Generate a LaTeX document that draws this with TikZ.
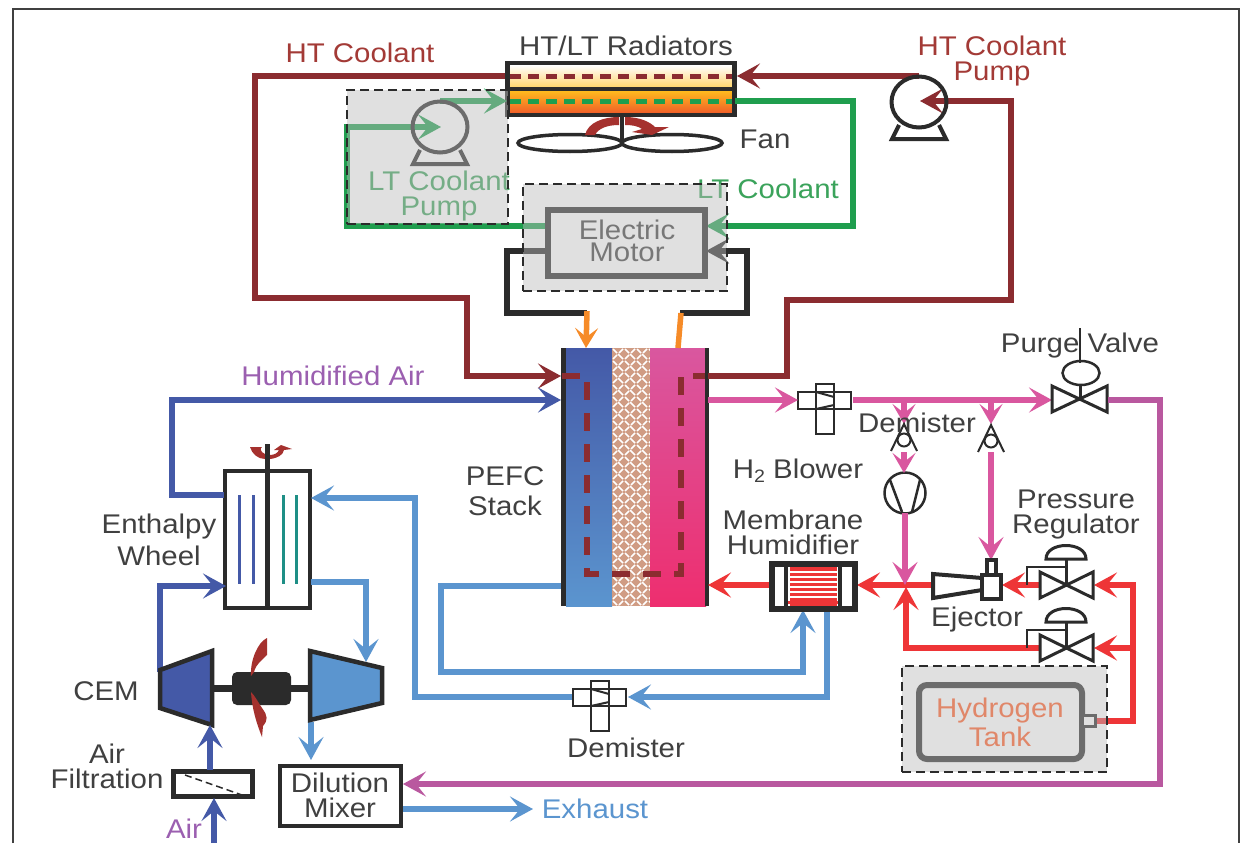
\documentclass[tikz,border=0pt]{standalone}
\usepackage{fontspec}
\setmainfont[FakeStretch=1.09]{Liberation Sans}
\usetikzlibrary{arrows.meta,calc,shapes.geometric}
\definecolor{htred}{HTML}{8B2C30}
\definecolor{htxt}{HTML}{A33A36}
\definecolor{ltgreen}{HTML}{1F9E4E}
\definecolor{ltxt}{HTML}{3BA35B}
\definecolor{dkblue}{HTML}{4459A7}
\definecolor{ltblue}{HTML}{5B95CF}
\definecolor{pinkl}{HTML}{D9579F}
\definecolor{purp}{HTML}{B9589F}
\definecolor{hred}{HTML}{EE3537}
\definecolor{orng}{HTML}{F68B28}
\definecolor{ink}{HTML}{2B2B2B}
\definecolor{txt}{HTML}{404040}
\definecolor{veil}{HTML}{BBBBBB}
\definecolor{bladered}{HTML}{A5312E}
\definecolor{teal}{HTML}{1E8F86}
\tikzset{
  lbl/.style={font=\fontsize{27}{25}\selectfont,align=center,inner sep=0pt,text=txt},
  flow/.style={line width=5.5pt,line join=miter},
  arr/.style={flow,-{Stealth[length=23pt,width=25pt,inset=10pt]}},
  sarr/.style={flow,-{Stealth[length=20pt,width=23pt,inset=9pt]}},
  boxpart/.style={draw=ink,line width=4.5pt,fill=white,inner sep=0pt},
  fine/.style={draw=ink,line width=2pt,line join=miter},
  mid/.style={draw=ink,line width=3pt,line join=miter},
  veilbox/.style={draw=ink,dash pattern=on 9pt off 5pt,line width=2.5pt,fill=veil,fill opacity=.455,draw opacity=1,inner sep=0pt},
  pumpc/.style={draw=ink,line width=4pt,ellipse,inner sep=0pt,minimum width=55pt,minimum height=51pt},
}
\newcommand{\crossvalve}[2]{% demister cross, centre x, top y of the horizontal bar
  \draw[fine] (#1-27,#2) rectangle (#1+26,#2+17);
  \draw[fine] (#1-9,#2-8) rectangle (#1+9,#2+42);
  \draw[fine] (#1-9,#2) -- (#1+9,#2+5);
  \draw[fine] (#1-9,#2+17) -- (#1+9,#2+13);
}
\newcommand{\drop}[2]{% small separator, apex x, apex y
  \draw[fine] (#1-13,#2+27) -- (#1,#2) -- (#1+13,#2+27);
  \draw[fine] (#1,#2+16) circle (6.5);
}
\newcommand{\regul}[2]{% regulator valve, centre x, centre y
  \draw[mid] (#1-26,#2-13) -- (#1+27,#2+13) -- (#1+27,#2-13) -- (#1-26,#2+13) -- cycle;
  \draw[mid] (#1,#2) -- (#1,#2-26);
  \draw[mid] (#1-20,#2-26) .. controls (#1-20,#2-44) and (#1+20,#2-44) .. (#1+20,#2-26) -- cycle;
  \draw[fine,line width=2.5pt] (#1,#2-18) -- (#1-39,#2-18) -- (#1-39,#2);
}
\begin{document}
\begin{tikzpicture}[x=1pt,y=-1pt]
\useasboundingbox (0,0) rectangle (1241,843);
\fill[white] (0,0) rectangle (1241,843);
% frame
\coordinate (frA) at (13,843); \coordinate (frB) at (13,9); \coordinate (frC) at (1239,9); \coordinate (frD) at (1239,843);
\draw[line width=2.5pt,color=ink!90] (frA) -- (frB) -- (frC) -- (frD);

% ---------- stack
\node[inner sep=0,minimum width=46pt,minimum height=258pt,top color=dkblue,bottom color=ltblue] (anode) at (589,477) {};
\node[inner sep=0,minimum width=38pt,minimum height=258pt,fill=white] (mem) at (631,477) {};
\begin{scope}
\clip (612,348) rectangle (650,606);
\fill[color={rgb,255:red,208;green,156;blue,132}] (612,348) rectangle (650,606);
\foreach \x in {606,618,...,650}{\foreach \y in {342,354,...,606}{
  \draw[white,line width=1.6pt] (\x,\y) -- ++(5,5);
  \draw[white,line width=1.6pt] (\x+11,\y+1) -- ++(-4,4);
  \draw[white,line width=1.6pt] (\x+1,\y+11) -- ++(4,-4);
  \draw[white,line width=1.6pt] (\x+7,\y+7) -- ++(4,4);
}}
\end{scope}
\node[inner sep=0,minimum width=56pt,minimum height=258pt,top color=pinkl,middle color={rgb,255:red,238;green,52;blue,152},bottom color={rgb,255:red,238;green,46;blue,111}] (cath) at (678,477) {};
\node[fill=ink,inner sep=0,minimum width=5pt,minimum height=258pt] (barL) at (563.5,477) {};
\node[fill=ink,inner sep=0,minimum width=4pt,minimum height=258pt] (barR) at (707,477) {};

% ---------- HT coolant
\coordinate (h1) at (507,76); \coordinate (h2) at (255,76); \coordinate (h3) at (255,298); \coordinate (h4) at (467,298); \coordinate (h5) at (467,376); \coordinate (h6) at (561,376);
\coordinate (h7) at (708,376); \coordinate (h8) at (787,376); \coordinate (h9) at (787,300); \coordinate (h10) at (1011,300); \coordinate (h11) at (1011,101); \coordinate (h12) at (920,101);
\coordinate (h13) at (919,76); \coordinate (h14) at (737,76);
\draw[arr,color=htred] (h1) -- (h2) -- (h3) -- (h4) -- (h5) -- (h6);
\draw[arr,color=htred] (h7) -- (h8) -- (h9) -- (h10) -- (h11) -- (h12);
\draw[arr,color=htred] (h13) -- (h14);
\coordinate (s1) at (562,376); \coordinate (s2) at (587,376); \coordinate (s3) at (587,574); \coordinate (s4) at (681,574); \coordinate (s5) at (681,376); \coordinate (s6) at (705,376);
\draw[htred,line width=6pt,dash pattern=on 18pt off 13pt,line join=miter] (s1) -- (s2) -- (s3) -- (s4) -- (s5) -- (s6);

% ---------- radiators
\node[inner sep=0,minimum width=226pt,minimum height=22pt,top color=white,bottom color={rgb,255:red,255;green,214;blue,110}] (radT) at (621,76) {};
\node[inner sep=0,minimum width=226pt,minimum height=24pt,top color={rgb,255:red,255;green,190;blue,30},middle color={rgb,255:red,255;green,175;blue,35},bottom color={rgb,255:red,240;green,90;blue,40}] (radB) at (621,102) {};
\coordinate (d1) at (510,76.5); \coordinate (d2) at (733,76.5);
\draw[htred,line width=5pt,dash pattern=on 11pt off 7pt] (d1) -- (d2);
\coordinate (d3) at (510,101.5); \coordinate (d4) at (733,101.5);
\draw[ltgreen,line width=5pt,dash pattern=on 11pt off 7pt] (d3) -- (d4);
\node[draw=ink,line width=4.5pt,inner sep=0,minimum width=227pt,minimum height=52pt] (rad) at (621,89) {};
\coordinate (d5) at (507,89); \coordinate (d6) at (735,89);
\draw[ink,line width=4pt] (d5) -- (d6);

% ---------- LT coolant
\coordinate (l1) at (547,226); \coordinate (l2) at (347,226); \coordinate (l3) at (347,127); \coordinate (l4) at (441,127);
\coordinate (l5) at (440,101); \coordinate (l6) at (507,101);
\coordinate (l7) at (735,101); \coordinate (l8) at (853,101); \coordinate (l9) at (853,226); \coordinate (l10) at (706,226);
\draw[arr,color=ltgreen] (l1) -- (l2) -- (l3) -- (l4);
\draw[arr,color=ltgreen] (l5) -- (l6);
\draw[arr,color=ltgreen] (l7) -- (l8) -- (l9) -- (l10);

% ---------- pumps
\node[pumpc] (ltpump) at (440,127) {};
\node[pumpc] (htpump) at (919,102) {};
\draw[mid,line width=4pt] (420,150) -- (413,164) -- (467,164) -- (460,150);
\draw[mid,line width=4pt] (899,125) -- (892,139) -- (946,139) -- (939,125);

% ---------- fan
\node[draw=ink,line width=3.5pt,ellipse,inner sep=0,minimum width=104pt,minimum height=17pt] (fanL) at (570,143) {};
\node[draw=ink,line width=3.5pt,ellipse,inner sep=0,minimum width=100pt,minimum height=17pt] (fanR) at (672,143) {};
\coordinate (fs1) at (622,116); \coordinate (fs2) at (622,143);
\fill[bladered] (585,135) .. controls (588,122) and (604,117) .. (619,117) -- (619,125) .. controls (606,125) and (598,129) .. (595,135) -- cycle;
\fill[bladered] (625,117) .. controls (640,117) and (650,122) .. (655,127) -- (669,127) -- (652,135) -- (632,132) -- (642,129) .. controls (638,126) and (632,125) .. (625,125) -- cycle;
\draw[ink,line width=4.5pt] (fs1) -- (fs2);

% ---------- top labels
\node[lbl,text=htxt] (tHT) at (360,53) {HT Coolant};
\node[lbl] (tRad) at (626,46) {HT/LT Radiators};
\node[lbl,text=htxt] (tHTP) at (992,61) {HT Coolant\\Pump};
\node[lbl] (tFan) at (765,139) {Fan};
\node[lbl,text=ltxt] (tLTP) at (439,196) {LT Coolant\\Pump};
\node[lbl,text=ltxt] (tLT) at (768,189) {LT Coolant};

% ---------- motor
\node[boxpart,line width=6pt,fill=none,minimum width=157pt,minimum height=66pt] (motor) at (626,242.5) {};
\node[lbl,text=txt] (tMot) at (627,241) {Electric\\[-3pt]Motor};
\coordinate (b1) at (547,251); \coordinate (b2) at (507,251); \coordinate (b3) at (507,313); \coordinate (b4) at (587,313);
\coordinate (b5) at (680,313); \coordinate (b6) at (747,313); \coordinate (b7) at (747,251); \coordinate (b8) at (706,251);
\draw[flow,line width=6pt,color=ink] (b1) -- (b2) -- (b3) -- (b4);
\draw[arr,line width=6pt,color=ink] (b5) -- (b6) -- (b7) -- (b8);
\coordinate (o1) at (587,311); \coordinate (o2) at (586,348); \coordinate (o3) at (681,313); \coordinate (o4) at (678,348);
\draw[sarr,color=orng] (o1) -- (o2);
\draw[flow,color=orng] (o3) -- (o4);

% veils
\node[veilbox,minimum width=161pt,minimum height=134pt] (ltbox) at (427.5,157) {};
\node[veilbox,minimum width=204pt,minimum height=107pt] (motbox) at (625,237.5) {};

% ---------- air side
\node[boxpart,minimum width=85pt,minimum height=137pt] (wheel) at (267.5,539.5) {};
\coordinate (ws1) at (267,444); \coordinate (ws2) at (267,608);
\coordinate (wa) at (239,495); \coordinate (wb) at (239,584); \coordinate (wc) at (253,495); \coordinate (wd) at (253,584);
\coordinate (we) at (283,495); \coordinate (wf) at (283,584); \coordinate (wg) at (296,495); \coordinate (wh) at (296,584);
\draw[dkblue,line width=3pt] (wa) -- (wb) (wc) -- (wd);
\draw[teal,line width=3pt] (we) -- (wf) (wg) -- (wh);
\fill[bladered] (250,447) .. controls (252,454) and (258,459) .. (265,459) -- (265,454) .. controls (260,452) and (260,448) .. (262,447) -- cycle;
\fill[bladered] (270,459) .. controls (278,458) and (283,455) .. (284,450) -- (292,449) -- (281,445) -- (274,450) -- (279,450) .. controls (278,453) and (274,455) .. (270,455) -- cycle;
\draw[ink,line width=5pt] (ws1) -- (ws2);

\coordinate (a1) at (224,495); \coordinate (a2) at (172,495); \coordinate (a3) at (172,400); \coordinate (a4) at (561,400);
\draw[arr,color=dkblue] (a1) -- (a2) -- (a3) -- (a4);
\coordinate (a5) at (160,672); \coordinate (a6) at (160,586); \coordinate (a7) at (226,586);
\draw[arr,color=dkblue] (a5) -- (a6) -- (a7);
% light blue
\coordinate (c1) at (561,586); \coordinate (c2) at (441,586); \coordinate (c3) at (441,672); \coordinate (c4) at (803,672); \coordinate (c5) at (803,610);
\draw[arr,color=ltblue] (c1) -- (c2) -- (c3) -- (c4) -- (c5);
\coordinate (c6) at (827,610); \coordinate (c7) at (827,697); \coordinate (c8) at (628,697);
\draw[arr,color=ltblue] (c6) -- (c7) -- (c8);
\coordinate (c9) at (572,697); \coordinate (c10) at (415,697); \coordinate (c11) at (415,498); \coordinate (c12) at (311,498);
\draw[arr,color=ltblue] (c9) -- (c10) -- (c11) -- (c12);
\coordinate (c13) at (311,582); \coordinate (c14) at (366,582); \coordinate (c15) at (366,662);
\draw[arr,color=ltblue] (c13) -- (c14) -- (c15);
\coordinate (c16) at (311,722); \coordinate (c17) at (311,760);
\draw[arr,color=ltblue] (c16) -- (c17);
\coordinate (c18) at (403,809); \coordinate (c19) at (533,809);
\draw[arr,color=ltblue] (c18) -- (c19);
% CEM
\draw[ink,line width=4.5pt,fill=dkblue,line join=miter] (160,670) -- (212,651) -- (212,725) -- (160,708) -- cycle;
\draw[ink,line width=4.5pt,fill=ltblue,line join=miter] (310,651) -- (382,668) -- (382,703) -- (310,720) -- cycle;
\coordinate (cs1) at (212,688); \coordinate (cs2) at (310,688);
\draw[ink,line width=7pt] (cs1) -- (cs2);
\node[fill=ink,rounded corners=5pt,inner sep=0,minimum width=59pt,minimum height=33pt] (cemcore) at (261.5,688.5) {};
\fill[bladered] (267,638) .. controls (258,642) and (250,660) .. (251,676) -- (254,672) .. controls (256,664) and (262,660) .. (267,655) -- cycle;
\fill[bladered] (251,692) .. controls (252,708) and (256,722) .. (262,737) -- (263,726) .. controls (268,720) and (268,716) .. (262,708) .. controls (258,702) and (255,696) .. (251,692) -- cycle;
% air filter
\node[boxpart,line width=5pt,minimum width=79pt,minimum height=25pt] (filter) at (213,784) {};
\coordinate (ff1) at (185,775); \coordinate (ff2) at (242,795);
\draw[ink,line width=1.5pt,dash pattern=on 7pt off 4pt] (ff1) -- (ff2);
\coordinate (g1) at (214,843); \coordinate (g2) at (214,798); \coordinate (g3) at (210,770); \coordinate (g4) at (210,725);
\draw[arr,color=dkblue] (g1) -- (g2);
\draw[arr,color=dkblue] (g3) -- (g4);
% mixer
\node[boxpart,minimum width=121pt,minimum height=60pt] (mixer) at (340.5,796) {};
\node[lbl] (tMix) at (340,795) {Dilution\\Mixer};

% ---------- anode gas loop (pink)
\crossvalve{825}{392}
\crossvalve{600}{689}
\coordinate (p1) at (708,400); \coordinate (p2) at (798,400); \coordinate (p3) at (853,400); \coordinate (p4) at (1052,400);
\draw[arr,color=pinkl] (p1) -- (p2);
\draw[arr,color=pinkl] (p3) -- (p4);
\coordinate (pb1) at (904,400); \coordinate (pb2) at (904,424); \coordinate (pb3) at (991,400); \coordinate (pb4) at (991,424);
\draw[sarr,color=pinkl] (pb1) -- (pb2);
\draw[sarr,color=pinkl] (pb3) -- (pb4);
\drop{904}{424}
\drop{991}{425}
\node[draw=ink,line width=2.5pt,circle,inner sep=0,minimum size=41pt] (blower) at (905,493) {};
\draw[fine,line width=2.5pt] (890,480) -- (902,512) (920,480) -- (912,512);
\coordinate (pc1) at (904,452); \coordinate (pc2) at (904,473); \coordinate (pc3) at (905,513); \coordinate (pc4) at (905,585);
\draw[sarr,color=pinkl] (pc1) -- (pc2);
\coordinate (pd1) at (991,452); \coordinate (pd2) at (991,560);
\draw[arr,color=pinkl] (pd1) -- (pd2);
% purge
\draw[mid] (1052,386) -- (1107,412) -- (1107,386) -- (1052,412) -- cycle;
\node[draw=ink,line width=2.5pt,ellipse,inner sep=0,minimum width=37pt,minimum height=24pt] (purgeTop) at (1081,373) {};
\coordinate (pv1) at (1080,385); \coordinate (pv2) at (1080,399);
\draw[mid] (pv1) -- (pv2);
\coordinate (q1) at (1108,400); \coordinate (q2) at (1160,400); \coordinate (q3) at (1160,784); \coordinate (q4) at (403,784);
\draw[arr,color=purp,line width=6pt] (q1) -- (q2) -- (q3) -- (q4);

% ---------- hydrogen (red)
\coordinate (r1) at (933,585); \coordinate (r2) at (857,585); \coordinate (r3) at (771,585); \coordinate (r4) at (708,585);
\draw[arr,color=hred] (r1) -- (r2);
\draw[arr,color=hred] (r3) -- (r4);
\coordinate (r5) at (1040,585); \coordinate (r6) at (1002,585);
\draw[arr,color=hred] (r5) -- (r6);
\coordinate (r7) at (1133,721); \coordinate (r8) at (1133,585); \coordinate (r9) at (1094,585); \coordinate (r10) at (1096,721);
\draw[arr,color=hred] (r10) -- (r7) -- (r8) -- (r9);
\coordinate (r11) at (1133,648); \coordinate (r12) at (1094,648);
\draw[arr,color=hred] (r11) -- (r12);
\coordinate (r13) at (1040,648); \coordinate (r14) at (906,648); \coordinate (r15) at (906,587);
\draw[arr,color=hred] (r13) -- (r14) -- (r15);
\draw[arr,color=pinkl] (pc3) -- (pc4);
\regul{1066}{585}
\regul{1066}{648}
% ejector
\draw[ink,line width=4pt,line join=miter,fill=white] (933,574) -- (982,578) -- (982,590) -- (933,598) -- cycle;
\node[boxpart,line width=4pt,minimum width=19pt,minimum height=24pt] (ejb) at (991.5,587) {};
\node[boxpart,line width=3.5pt,minimum width=9pt,minimum height=15pt] (ejt) at (991.5,567.5) {};
% membrane humidifier
\node[draw=ink,line width=5.5pt,fill=white,inner sep=0,minimum width=83pt,minimum height=45pt] (memb) at (813.5,586.5) {};
\fill[hred] (790,567) rectangle (837,606);
\foreach \yy in {571,576,...,601}{\fill[white] (790,\yy) rectangle (837,\yy+2);}
\fill[hred] (787,600.5) rectangle (840,604);
\draw[ink,line width=4.5pt] (786,564) -- (786,609) (840,564) -- (840,609);

% ---------- hydrogen tank
\node[draw=ink,line width=6pt,rounded corners=8pt,inner sep=0,fill=white,minimum width=163pt,minimum height=74pt] (tank) at (1000.5,722) {};
\node[draw=ink,line width=3.5pt,inner sep=0,fill=white,minimum width=13pt,minimum height=11pt] (nozzle) at (1089,721) {};
\node[lbl,text={rgb,255:red,255;green,92;blue,38}] (tTank) at (1000,722) {Hydrogen\\[3pt]Tank};
\node[veilbox,minimum width=205pt,minimum height=106pt] (tankbox) at (1004.5,719) {};

% ---------- labels
\node[lbl,text={rgb,255:red,155;green,95;blue,176}] (tHum) at (333,376) {Humidified Air};
\node[lbl] (tPurge) at (1080,346) {Purge Valve};
\coordinate (pv3b) at (1080,328); \coordinate (pv4b) at (1080,363);
\draw[fine] (pv3b) -- (pv4b);
\node[lbl] (tDemA) at (917,423) {Demister};
\node[lbl] (tBlow) at (798,471) {H\raisebox{-4pt}{\fontsize{18}{18}\selectfont 2} Blower};
\node[lbl] (tPEFC) at (505,491) {PEFC\\[5pt]Stack};
\node[lbl] (tMemb) at (793,532) {Membrane\\Humidifier};
\node[lbl] (tPress) at (1076,515) {Pressure\\Regulator};
\node[lbl] (tEj) at (977,620) {Ejector};
\node[lbl] (tEnth) at (159,540) {Enthalpy\\[6pt]Wheel};
\node[lbl] (tCEM) at (106,691) {CEM};
\node[lbl] (tAirF) at (107,766) {Air\\Filtration};
\node[lbl,text={rgb,255:red,155;green,95;blue,176}] (tAir) at (184,829) {Air};
\node[lbl,text=ltblue] (tExh) at (595,809) {Exhaust};
\node[lbl] (tDemB) at (626,748) {Demister};
\end{tikzpicture}
\end{document}
